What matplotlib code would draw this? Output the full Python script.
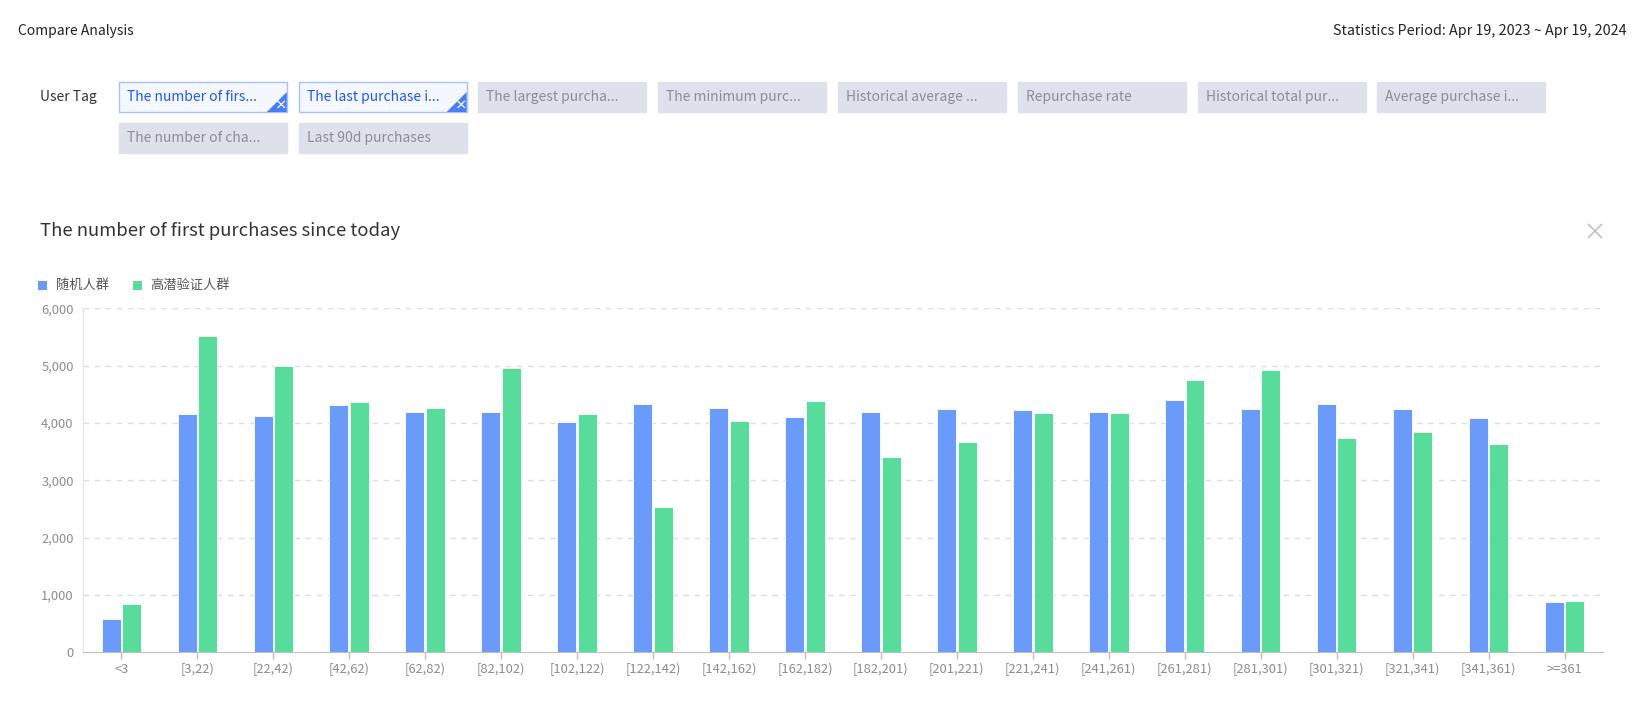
"""
Compare Analysis dashboard - grouped bar chart recreation
"""
import matplotlib
matplotlib.use('Agg')
import matplotlib.pyplot as plt
from matplotlib.patches import Rectangle, Polygon
from matplotlib.lines import Line2D
import numpy as np

plt.rcParams['font.family'] = ['Noto Sans CJK SC', 'DejaVu Sans']

# ---------------- data ----------------
categories = ['<3', '[3,22)', '[22,42)', '[42,62)', '[62,82)', '[82,102)',
              '[102,122)', '[122,142)', '[142,162)', '[162,182)', '[182,201)',
              '[201,221)', '[221,241)', '[241,261)', '[261,281)', '[281,301)',
              '[301,321)', '[321,341)', '[341,361)', '>=361']
random_group = [575, 4150, 4120, 4305, 4195, 4190, 4020, 4325, 4260, 4100,
                4185, 4240, 4220, 4185, 4400, 4240, 4330, 4250, 4080, 870]
high_group = [850, 5515, 4990, 4365, 4260, 4965, 4160, 2535, 4035, 4385,
              3405, 3660, 4175, 4170, 4745, 4925, 3730, 3840, 3630, 900]
series_names = ['随机人群', '高潜验证人群']

tags_row1 = ['The number of firs...', 'The last purchase i...', 'The largest purcha...',
             'The minimum purc...', 'Historical average ...', 'Repurchase rate',
             'Historical total pur...', 'Average purchase i...']
tags_row2 = ['The number of cha...', 'Last 90d purchases']
selected_tags = [0, 1]

BLUE = '#6B9BFA'
GREEN = '#58DC9B'

W, H = 1635, 716
fig = plt.figure(figsize=(W / 100, H / 100), dpi=100)
fig.patch.set_facecolor('white')


def fx(px):
    return px / W


def fy(py):
    return 1 - py / H


# ---------------- header ----------------
fig.text(fx(18), fy(31), 'Compare Analysis', fontsize=10, color='#222222',
         va='center', ha='left')
fig.text(fx(1627), fy(31), 'Statistics Period: Apr 19, 2023 ~ Apr 19, 2024',
         fontsize=10.3, color='#222222', va='center', ha='right')
fig.text(fx(40), fy(97), 'User Tag', fontsize=10, color='#333333',
         va='center', ha='left')

# ---------------- tag buttons ----------------
box_w, box_h, step = 168, 30, 179.8
rows = [(tags_row1, 82), (tags_row2, 123)]
idx = 0
for labels, top in rows:
    for j, lab in enumerate(labels):
        x0 = 118.8 + j * step
        sel = idx in selected_tags
        fc = '#F4F7FE' if sel else '#DEE0EB'
        ec = '#A8C1FB' if sel else '#DEE0EB'
        tc = '#1F5AF6' if sel else '#8B8D99'
        fig.patches.append(Rectangle((fx(x0), fy(top + box_h)), fx(box_w), box_h / H,
                                     transform=fig.transFigure, fc=fc, ec=ec, lw=1))
        fig.text(fx(x0 + 8), fy(top + box_h / 2), lab, fontsize=10, color=tc,
                 va='center', ha='left')
        if sel:
            xr, yb = x0 + box_w, top + box_h
            tri = Polygon([(fx(xr), fy(yb)), (fx(xr), fy(yb - 20)), (fx(xr - 20), fy(yb))],
                          closed=True, transform=fig.transFigure, fc='#4A7EF7', ec='none')
            fig.patches.append(tri)
            fig.text(fx(xr - 6), fy(yb - 5.5), '×', fontsize=9, color='white',
                     fontweight='bold', va='center', ha='center')
        idx += 1

# ---------------- chart title ----------------
fig.text(fx(40), fy(231), 'The number of first purchases since today', fontsize=13.3,
         color='#333333', va='center', ha='left')
# close icon
cx, cy, r = 1595, 231, 6.5
for dx in (-1, 1):
    fig.add_artist(Line2D([fx(cx - r), fx(cx + r)], [fy(cy - dx * r), fy(cy + dx * r)],
                          transform=fig.transFigure, color='#BDBDBD', lw=1.1))

# ---------------- legend ----------------
for (sx, tx), name, col in zip([(38, 56), (133, 150)], series_names, [BLUE, GREEN]):
    fig.patches.append(Rectangle((fx(sx), fy(290)), fx(9), 9 / H,
                                 transform=fig.transFigure, fc=col, ec='none'))
    fig.text(fx(tx), fy(285), name, fontsize=9.5, color='#555555',
             va='center', ha='left')

# ---------------- bars ----------------
ax = fig.add_axes([fx(83.4), fy(652.3), fx(1602.5 - 83.4), (652.3 - 308.3) / H])
x = np.arange(len(categories))
bw = 0.25
ax.bar(x - 0.135, random_group, width=bw, color=BLUE, edgecolor='white',
       linewidth=0.6, zorder=3)
ax.bar(x + 0.135, high_group, width=bw, color=GREEN, edgecolor='white',
       linewidth=0.6, zorder=3)

ax.set_xlim(-0.5, len(categories) - 0.5)
ax.set_ylim(0, 6000)
ax.set_yticks(np.arange(0, 6001, 1000))
ax.set_yticklabels([f'{v:,}' for v in range(0, 6001, 1000)])
ax.set_xticks(x)
ax.set_xticklabels(categories)
ax.tick_params(axis='y', length=0, pad=7, labelsize=9.3, labelcolor='#8C8C8C')
ax.tick_params(axis='x', length=5, width=1, color='#BFBFBF', pad=2.5,
               labelsize=9.3, labelcolor='#8C8C8C')
for yv in range(1000, 6001, 1000):
    ax.axhline(yv, color='#DDDDDD', lw=1, ls=(0, (4, 4)), zorder=1)
for s in ['top', 'right']:
    ax.spines[s].set_visible(False)
ax.spines['left'].set_color('#E3E3E3')
ax.spines['bottom'].set_color('#BFBFBF')
ax.set_facecolor('white')

fig.savefig('out.png', dpi=100, facecolor='white')
